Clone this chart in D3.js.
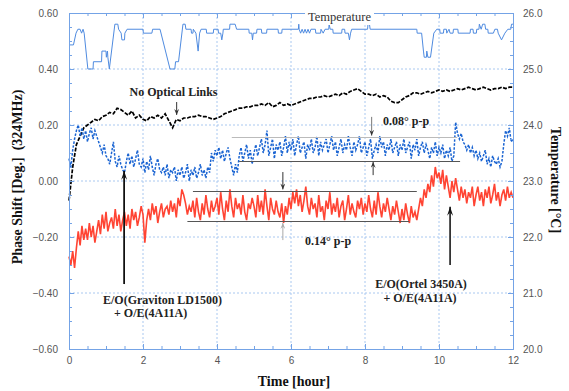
<!DOCTYPE html>
<html>
<head>
<meta charset="utf-8">
<script src="https://cdn.jsdelivr.net/npm/d3@7/dist/d3.min.js"></script>
<style>
  body { margin: 0; background: #fff; }
  svg { display: block; }
  .tick text { font-family: "Liberation Sans", Arial, sans-serif; font-size: 10px; fill: #555; }
  .title { font-family: "Liberation Serif", "Times New Roman", serif; font-weight: bold; font-size: 14px; fill: #111; white-space: pre; }
  .note { font-family: "Liberation Serif", "Times New Roman", serif; font-weight: bold; font-size: 12px; fill: #222; }
</style>
</head>
<body>
<div id="chart"></div>
<script>
// tick values
var hourTicks = [0, 2, 4, 6, 8, 10, 12];
var phaseTicks = [-0.6, -0.4, -0.2, 0, 0.2, 0.4, 0.6];
var tempTicks = [20, 21, 22, 23, 24, 25, 26];

// temperature [hour, degC]
var temperature = [[0,25.43],[0.12,25.43],[0.19,25.64],[0.24,25.71],[0.30,25.71],[0.34,25.64],[0.38,25.71],[0.41,25.64],[0.51,25.0],[0.65,25.0],[0.66,25.13],[0.88,25.13],[0.89,25.32],[1.0,25.32],[1.01,25.21],[1.04,25.32],[1.05,25.21],[1.09,25.0],[1.24,25.8],[1.32,25.8],[1.34,25.71],[1.41,25.64],[1.43,25.52],[1.50,25.52],[1.51,25.64],[1.57,25.71],[2.0,25.71],[2.01,25.64],[2.24,25.64],[2.26,25.71],[2.46,25.71],[2.73,25.0],[2.86,25.0],[2.88,25.13],[2.96,25.13],[3.08,25.8],[3.14,25.8],[3.16,25.71],[3.30,25.71],[3.31,25.64],[3.35,25.64],[3.36,25.71],[3.43,25.64],[3.49,25.32],[3.53,25.64],[3.57,25.71],[3.71,25.71],[3.72,25.64],[3.90,25.64],[3.91,25.71],[4.03,25.71],[4.04,25.64],[4.10,25.64],[4.13,25.52],[4.16,25.64],[4.17,25.71],[4.34,25.71],[4.35,25.8],[4.49,25.8],[4.53,25.71],[4.86,25.71],[4.87,25.64],[4.94,25.64],[4.96,25.52],[4.98,25.64],[5.07,25.64],[5.08,25.71],[5.20,25.71],[5.21,25.64],[5.34,25.64],[5.35,25.71],[5.65,25.71],[5.66,25.64],[5.75,25.64],[5.76,25.71],[6.20,25.71],[6.21,25.8],[6.22,25.71],[6.26,25.64],[6.30,25.71],[6.34,25.64],[6.38,25.71],[6.42,25.64],[6.46,25.71],[6.50,25.64],[6.54,25.71],[6.66,25.71],[6.67,25.64],[6.80,25.64],[6.81,25.71],[6.87,25.64],[6.92,25.71],[7.02,25.71],[7.03,25.8],[7.06,25.71],[7.13,25.71],[7.14,25.64],[7.37,25.64],[7.38,25.71],[7.45,25.71],[7.46,25.64],[7.55,25.64],[7.58,25.52],[7.61,25.64],[7.64,25.71],[8.07,25.71],[8.08,25.8],[8.12,25.8],[8.14,25.71],[9.40,25.71],[9.41,25.64],[9.53,25.64],[9.58,25.32],[9.60,25.21],[9.66,25.21],[9.67,25.32],[9.70,25.21],[9.77,25.21],[9.86,25.64],[9.94,25.71],[10.02,25.71],[10.03,25.64],[10.12,25.64],[10.13,25.71],[10.20,25.71],[10.21,25.64],[10.27,25.71],[10.30,25.64],[10.38,25.64],[10.39,25.71],[10.51,25.71],[10.52,25.64],[10.84,25.64],[10.85,25.71],[10.92,25.71],[10.93,25.64],[11.01,25.64],[11.02,25.71],[11.08,25.71],[11.09,25.8],[11.14,25.71],[11.18,25.8],[11.24,25.8],[11.26,25.71],[11.32,25.71],[11.33,25.64],[11.47,25.64],[11.51,25.71],[11.58,25.71],[11.60,25.64],[11.69,25.52],[11.78,25.64],[11.86,25.71],[11.94,25.71],[11.96,25.8],[12.0,25.8]];

// no optical links, one value every 0.1 hour
var noLinkStep = 0.1;
var noLink = [-0.07, 0.05, 0.13, 0.16, 0.19, 0.20,
  0.21, 0.22, 0.215, 0.23, 0.235,
  0.245, 0.24, 0.26, 0.255, 0.245,
  0.235, 0.25, 0.225, 0.235, 0.22,
  0.215, 0.23, 0.225, 0.235, 0.225,
  0.24, 0.215, 0.19, 0.22, 0.215,
  0.225, 0.225, 0.23, 0.23, 0.235,
  0.23, 0.23, 0.225, 0.22, 0.225,
  0.23, 0.24, 0.245, 0.25, 0.255,
  0.26, 0.26, 0.265, 0.265, 0.27,
  0.27, 0.275, 0.27, 0.28, 0.265,
  0.27, 0.28, 0.27, 0.275, 0.27,
  0.275, 0.28, 0.285, 0.29, 0.295,
  0.295, 0.30, 0.30, 0.305, 0.30,
  0.305, 0.31, 0.305, 0.315, 0.31,
  0.32, 0.325, 0.33, 0.32, 0.31,
  0.31, 0.305, 0.31, 0.30, 0.305,
  0.30, 0.285, 0.28, 0.28, 0.29,
  0.30, 0.305, 0.315, 0.315, 0.31,
  0.315, 0.32, 0.315, 0.32, 0.325,
  0.32, 0.325, 0.32, 0.325, 0.33,
  0.325, 0.33, 0.335, 0.33, 0.325,
  0.33, 0.335, 0.33, 0.325, 0.33,
  0.33, 0.335, 0.33, 0.335, 0.335];

// graviton and ortel links, one value every 0.05 hour
var linkStep = 0.05;
var graviton = [
  0.08, 0.05, 0.11, 0.15, 0.18, 0.20, 0.16, 0.19, 0.15, 0.18, 0.14, 0.17, 0.19, 0.15, 0.18, 0.16, 0.14, 0.12, 0.10, 0.13,
  0.09, 0.08, 0.06, 0.10, 0.14, 0.07, 0.05, 0.09, 0.06, 0.04, 0.03, 0.07, 0.10, 0.06, 0.09, 0.05, 0.08, 0.11, 0.06, 0.05,
  0.08, 0.03, 0.07, 0.04, 0.09, 0.05, 0.02, 0.06, 0.08, 0.04, 0.03, 0.05, 0.02, 0.06, 0.01, 0.04, 0.03, 0.05, 0.00, 0.04,
  0.02, 0.05, 0.01, 0.03, 0.06, 0.00, 0.04, 0.02, 0.05, 0.01, 0.03, 0.06, 0.02, 0.04, 0.01, 0.05, 0.03, 0.10, 0.07, 0.11,
  0.09, 0.12, 0.08, 0.11, 0.07, 0.10, 0.12, 0.08, 0.05, 0.02, 0.06, 0.03, 0.09, 0.12, 0.07, 0.10, 0.13, 0.08, 0.11, 0.06,
  0.10, 0.13, 0.09, 0.12, 0.15, 0.10, 0.13, 0.18, 0.09, 0.12, 0.15, 0.08, 0.13, 0.11, 0.14, 0.09, 0.12, 0.16, 0.10, 0.14,
  0.11, 0.15, 0.09, 0.13, 0.16, 0.10, 0.12, 0.14, 0.08, 0.13, 0.11, 0.15, 0.10, 0.12, 0.16, 0.09, 0.14, 0.11, 0.13, 0.15,
  0.10, 0.13, 0.16, 0.11, 0.14, 0.09, 0.12, 0.15, 0.10, 0.13, 0.11, 0.16, 0.12, 0.09, 0.14, 0.11, 0.13, 0.16, 0.10, 0.12,
  0.14, 0.09, 0.12, 0.15, 0.08, 0.11, 0.13, 0.10, 0.16, 0.12, 0.14, 0.09, 0.13, 0.11, 0.15, 0.10, 0.12, 0.14, 0.09, 0.13,
  0.11, 0.15, 0.10, 0.12, 0.14, 0.08, 0.13, 0.11, 0.15, 0.09, 0.12, 0.14, 0.10, 0.13, 0.11, 0.08, 0.12, 0.10, 0.14, 0.09,
  0.12, 0.10, 0.13, 0.08, 0.11, 0.09, 0.12, 0.07, 0.09, 0.21, 0.17, 0.15, 0.17, 0.14, 0.13, 0.11, 0.13, 0.10, 0.12, 0.09,
  0.11, 0.08, 0.10, 0.07, 0.09, 0.11, 0.06, 0.08, 0.05, 0.09, 0.07, 0.06, 0.08, 0.05, 0.07, 0.13, 0.18, 0.16, 0.19, 0.14, 0.15];

var ortel = [
  -0.27, -0.30, -0.25, -0.31, -0.24, -0.18, -0.23, -0.16, -0.21, -0.17, -0.21, -0.15, -0.20, -0.16, -0.22, -0.18, -0.14, -0.19, -0.12, -0.17,
  -0.11, -0.18, -0.15, -0.13, -0.17, -0.10, -0.16, -0.12, -0.18, -0.14, -0.11, -0.16, -0.12, -0.17, -0.10, -0.14, -0.11, -0.16, -0.13, -0.09,
  -0.12, -0.22, -0.14, -0.10, -0.14, -0.08, -0.12, -0.09, -0.15, -0.11, -0.08, -0.13, -0.10, -0.09, -0.12, -0.07, -0.11, -0.08, -0.13, -0.06,
  -0.09, -0.03, -0.05, -0.08, -0.12, -0.09, -0.11, -0.07, -0.13, -0.06, -0.11, -0.14, -0.08, -0.12, -0.05, -0.10, -0.13, -0.07, -0.11, -0.09,
  -0.06, -0.12, -0.04, -0.10, -0.14, -0.07, -0.11, -0.03, -0.09, -0.13, -0.06, -0.10, -0.08, -0.12, -0.05, -0.11, -0.14, -0.08, -0.10, -0.06,
  -0.09, -0.13, -0.05, -0.11, -0.07, -0.12, -0.03, -0.09, -0.14, -0.06, -0.10, -0.12, -0.07, -0.11, -0.13, -0.08, -0.15, -0.09, -0.12, -0.06,
  -0.10, -0.04, -0.08, -0.03, -0.09, -0.05, -0.11, -0.07, -0.02, -0.09, -0.12, -0.06, -0.10, -0.08, -0.13, -0.05, -0.11, -0.09, -0.14, -0.07,
  -0.10, -0.04, -0.12, -0.08, -0.11, -0.06, -0.13, -0.09, -0.07, -0.14, -0.10, -0.05, -0.12, -0.08, -0.11, -0.13, -0.07, -0.10, -0.06, -0.12,
  -0.08, -0.11, -0.05, -0.10, -0.13, -0.07, -0.12, -0.04, -0.09, -0.13, -0.08, -0.11, -0.06, -0.10, -0.14, -0.09, -0.12, -0.07, -0.11, -0.15,
  -0.10, -0.14, -0.08, -0.12, -0.15, -0.09, -0.13, -0.11, -0.14, -0.10, -0.06, -0.09, -0.03, -0.06, -0.01, -0.04, 0.02, -0.02, 0.05, 0.01,
  0.03, -0.01, 0.04, -0.03, 0.02, -0.02, -0.06, 0.00, -0.04, 0.01, -0.03, -0.07, -0.02, -0.06, -0.03, -0.08, -0.04, -0.06, -0.02, -0.09,
  -0.05, -0.02, -0.07, -0.04, -0.09, -0.03, -0.06, -0.02, -0.08, -0.05, -0.01, -0.07, -0.04, -0.09, -0.05, -0.03, -0.07, -0.02, -0.06, -0.04, -0.06];

var width = 569, height = 391;
var margin = { top: 13, right: 56, bottom: 42, left: 69 };
var frameColor = "#74a3e6";

var x = d3.scaleLinear().domain([0, 12]).range([margin.left, width - margin.right]);
var y = d3.scaleLinear().domain([-0.6, 0.6]).range([height - margin.bottom, margin.top]);
var yT = d3.scaleLinear().domain([20, 26]).range([height - margin.bottom, margin.top]);

var svg = d3.select("#chart").append("svg")
  .attr("width", width)
  .attr("height", height);

// dashed grid at the major ticks
var grid = svg.append("g").attr("stroke", "#a9c8f0").attr("stroke-dasharray", "2,2");
grid.selectAll(".vg").data(hourTicks.slice(1, -1)).enter().append("line")
  .attr("x1", d => x(d)).attr("x2", d => x(d))
  .attr("y1", y(0.6)).attr("y2", y(-0.6));
grid.selectAll(".hg").data(phaseTicks.slice(1, -1)).enter().append("line")
  .attr("x1", x(0)).attr("x2", x(12))
  .attr("y1", d => y(d)).attr("y2", d => y(d));

// temperature
svg.append("path")
  .datum(temperature)
  .attr("fill", "none")
  .attr("stroke", "#4f8be0")
  .attr("stroke-width", 1)
  .attr("d", d3.line().x(d => x(d[0])).y(d => yT(d[1])));

// series
var line = d3.line().x(d => x(d[0])).y(d => y(d[1]));

svg.append("path")
  .datum(noLink.map((v, i) => [i * noLinkStep, v]))
  .attr("fill", "none").attr("stroke", "#000")
  .attr("stroke-width", 1.7).attr("stroke-dasharray", "4,1.5")
  .attr("d", line);

svg.append("path")
  .datum(graviton.map((v, i) => [i * linkStep, v]))
  .attr("fill", "none").attr("stroke", "#1a64d2")
  .attr("stroke-width", 1.5).attr("stroke-dasharray", "2.5,1.5")
  .attr("d", line);

svg.append("path")
  .datum(ortel.map((v, i) => [i * linkStep, v]))
  .attr("fill", "none").attr("stroke", "#ff4433")
  .attr("stroke-width", 1.6)
  .attr("d", line);

// peak-to-peak guide lines
var guides = [
  { h0: 4.4, h1: 10.49, v: 0.158, c: "#bbb" },
  { h0: 4.6, h1: 10.57, v: 0.072, c: "#555" },
  { h0: 3.35, h1: 9.4, v: -0.035, c: "#555" },
  { h0: 3.2, h1: 9.2, v: -0.143, c: "#555" }
];
svg.append("g").selectAll("line").data(guides).enter().append("line")
  .attr("x1", d => x(d.h0)).attr("x2", d => x(d.h1))
  .attr("y1", d => Math.round(y(d.v)) + 0.5).attr("y2", d => Math.round(y(d.v)) + 0.5)
  .attr("stroke", d => d.c).attr("stroke-width", 1);

// arrows
var defs = svg.append("defs");
function marker(id, color, w, l) {
  defs.append("marker").attr("id", id)
    .attr("viewBox", "-" + l + " -" + w + " " + (l + 1) + " " + (2 * w))
    .attr("refX", 0).attr("refY", 0)
    .attr("markerWidth", l + 1).attr("markerHeight", 2 * w)
    .attr("markerUnits", "userSpaceOnUse")
    .attr("orient", "auto")
    .append("path").attr("d", "M0,0L-" + l + ",-" + w + "L-" + (l * 0.6) + ",0L-" + l + "," + w + "Z")
    .attr("fill", color);
}
marker("big", "#111", 3, 9);
marker("small", "#333", 2.5, 6);
marker("smallg", "#aaa", 2.5, 6);

var arrows = [
  { h: 1.49, v0: -0.368, v1: 0.036, w: 1.8, m: "big", c: "#111" },
  { h: 10.3, v0: -0.30, v1: -0.092, w: 1.8, m: "big", c: "#333" },
  { h: 2.91, v0: 0.282, v1: 0.236, w: 1, m: "small", c: "#333" },
  { h: 8.18, v0: 0.229, v1: 0.162, w: 1, m: "small", c: "#777" },
  { h: 8.22, v0: 0.021, v1: 0.068, w: 1, m: "small", c: "#333" },
  { h: 5.78, v0: 0.032, v1: -0.030, w: 1, m: "small", c: "#333" },
  { h: 5.78, v0: -0.211, v1: -0.150, w: 1, m: "smallg", c: "#aaa" }
];
svg.append("g").selectAll("line").data(arrows).enter().append("line")
  .attr("x1", d => x(d.h)).attr("x2", d => x(d.h))
  .attr("y1", d => y(d.v0)).attr("y2", d => y(d.v1))
  .attr("stroke", d => d.c).attr("stroke-width", d => d.w)
  .attr("marker-end", d => "url(#" + d.m + ")");

// axes
function styleAxis(g) {
  g.select(".domain").attr("stroke", frameColor);
  g.selectAll(".tick line").attr("stroke", frameColor);
}
var hourMinor = d3.range(0, 12.01, 0.5).filter(d => d % 2 !== 0);
var phaseMinor = d3.range(-0.6, 0.601, 0.05).filter(d => Math.abs(Math.round(d * 5) - d * 5) > 0.01);
var tempMinor = d3.range(20, 26.01, 0.25).filter(d => d % 1 !== 0);

var bottom = height - margin.bottom, right = width - margin.right;

svg.append("g").attr("transform", "translate(0," + bottom + ")")
  .call(d3.axisBottom(x).tickValues(hourMinor).tickSize(-3).tickSizeOuter(0).tickFormat(""))
  .call(styleAxis);
svg.append("g").attr("transform", "translate(0," + bottom + ")")
  .call(d3.axisBottom(x).tickValues(hourTicks).tickSize(-5).tickSizeOuter(0).tickPadding(8).tickFormat(d3.format("d")))
  .call(styleAxis);

svg.append("g").attr("transform", "translate(0," + margin.top + ")")
  .call(d3.axisTop(x).tickValues(hourMinor).tickSize(-3).tickSizeOuter(0).tickFormat(""))
  .call(styleAxis);
svg.append("g").attr("transform", "translate(0," + margin.top + ")")
  .call(d3.axisTop(x).tickValues(hourTicks).tickSize(-5).tickSizeOuter(0).tickFormat(""))
  .call(styleAxis);

svg.append("g").attr("transform", "translate(" + margin.left + ",0)")
  .call(d3.axisLeft(y).tickValues(phaseMinor).tickSize(-3).tickSizeOuter(0).tickFormat(""))
  .call(styleAxis);
svg.append("g").attr("transform", "translate(" + margin.left + ",0)")
  .call(d3.axisLeft(y).tickValues(phaseTicks).tickSize(-5).tickSizeOuter(0).tickPadding(11).tickFormat(d3.format(".2f")))
  .call(styleAxis);

svg.append("g").attr("transform", "translate(" + right + ",0)")
  .call(d3.axisRight(yT).tickValues(tempMinor).tickSize(-3).tickSizeOuter(0).tickFormat(""))
  .call(styleAxis);
svg.append("g").attr("transform", "translate(" + right + ",0)")
  .call(d3.axisRight(yT).tickValues(tempTicks).tickSize(-5).tickSizeOuter(0).tickPadding(10).tickFormat(d3.format(".1f")))
  .call(styleAxis);

// temperature label sits on the top edge
svg.append("rect").attr("x", 305).attr("y", 8).attr("width", 69).attr("height", 17).attr("fill", "#fff");
svg.append("text")
  .attr("x", 339.5).attr("y", 21)
  .attr("text-anchor", "middle")
  .style("font-family", "'Liberation Serif', 'Times New Roman', serif")
  .style("font-size", "12.5px").style("fill", "#333")
  .text("Temperature");

// axis titles
svg.append("text").attr("class", "title")
  .attr("x", 294).attr("y", 386).attr("text-anchor", "middle")
  .text("Time [hour]");
svg.append("text").attr("class", "title")
  .attr("transform", "translate(22,177) rotate(-90)").attr("text-anchor", "middle")
  .text("Phase Shift [Deg.]  (324MHz)");
svg.append("text").attr("class", "title")
  .attr("transform", "translate(551,180) rotate(90)").attr("text-anchor", "middle")
  .text("Temperature [°C]");

// notes
function note(tx, ty, anchor, s) {
  svg.append("text").attr("class", "note")
    .attr("x", tx).attr("y", ty).attr("text-anchor", anchor).text(s);
}
note(173.5, 96, "middle", "No Optical Links");
note(383, 125, "start", "0.08° p-p");
note(305, 245, "start", "0.14° p-p");
note(103, 304, "start", "E/O(Graviton LD1500)");
note(114, 317, "start", "+ O/E(4A11A)");
note(421, 288, "middle", "E/O(Ortel 3450A)");
note(420, 302, "middle", "+ O/E(4A11A)");
</script>
</body>
</html>
